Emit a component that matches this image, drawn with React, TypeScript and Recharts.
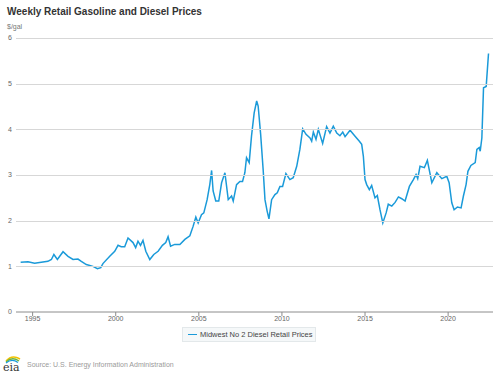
import React from "react";
import { LineChart, Line, XAxis, YAxis, Legend } from "recharts";

const years: number[] = [
  1994.28, 1994.72, 1995.12, 1995.52, 1995.92, 1996.13, 1996.28, 1996.49, 1996.83, 1997.13,
  1997.43, 1997.73, 1997.93, 1998.23, 1998.63, 1998.9, 1999.1, 1999.23, 1999.64, 1999.94,
  2000.14, 2000.33, 2000.54, 2000.74, 2001.04, 2001.2, 2001.34, 2001.49, 2001.64, 2001.81,
  2002.05, 2002.29, 2002.55, 2002.81, 2003.01, 2003.15, 2003.3, 2003.55, 2003.86, 2004.16,
  2004.46, 2004.66, 2004.82, 2004.96, 2005.16, 2005.3, 2005.5, 2005.66, 2005.77, 2005.86,
  2006.02, 2006.2, 2006.37, 2006.57, 2006.77, 2006.97, 2007.07, 2007.27, 2007.47, 2007.63,
  2007.77, 2007.87, 2008.03, 2008.17, 2008.33, 2008.48, 2008.57, 2008.72, 2008.87, 2008.98,
  2009.11, 2009.22, 2009.38, 2009.58, 2009.72, 2009.88, 2010.04, 2010.24, 2010.48, 2010.68,
  2010.89, 2011.08, 2011.25, 2011.45, 2011.69, 2011.79, 2011.89, 2012.05, 2012.19, 2012.45,
  2012.69, 2012.89, 2013.09, 2013.3, 2013.49, 2013.66, 2013.8, 2014.1, 2014.4, 2014.66,
  2014.8, 2014.9, 2015.0, 2015.1, 2015.26, 2015.4, 2015.6, 2015.74, 2015.9, 2016.07,
  2016.27, 2016.4, 2016.61, 2016.81, 2017.01, 2017.21, 2017.41, 2017.67, 2017.91, 2018.07,
  2018.17, 2018.31, 2018.57, 2018.75, 2019.02, 2019.32, 2019.62, 2019.92, 2020.06, 2020.22,
  2020.36, 2020.56, 2020.78, 2020.92, 2021.08, 2021.19, 2021.37, 2021.63, 2021.73, 2021.87,
  2021.93, 2022.03, 2022.13, 2022.29, 2022.43,
];

const prices: number[] = [
  1.09, 1.1, 1.07, 1.09, 1.11, 1.15, 1.26, 1.15, 1.32, 1.22,
  1.15, 1.16, 1.11, 1.04, 1.0, 0.95, 0.97, 1.06, 1.22, 1.33,
  1.46, 1.43, 1.43, 1.62, 1.52, 1.41, 1.55, 1.46, 1.57, 1.33,
  1.15, 1.26, 1.33, 1.46, 1.52, 1.65, 1.44, 1.48, 1.48, 1.59,
  1.67, 1.88, 2.08, 1.95, 2.13, 2.17, 2.46, 2.79, 3.1, 2.65,
  2.43, 2.43, 2.83, 3.05, 2.46, 2.54, 2.43, 2.79, 2.86, 2.86,
  3.05, 3.38, 3.27, 3.85, 4.36, 4.62, 4.51, 3.89, 3.12, 2.46,
  2.21, 2.04, 2.46, 2.57, 2.61, 2.75, 2.75, 3.03, 2.9, 2.94,
  3.19, 3.56, 4.01, 3.89, 3.81, 3.74, 3.94, 3.78, 4.0, 3.69,
  4.06, 3.92, 4.07, 3.92, 3.86, 3.94, 3.84, 3.98, 3.85, 3.74,
  3.67, 3.41, 2.9, 2.79, 2.68, 2.77, 2.5, 2.55, 2.24, 1.95,
  2.17, 2.36, 2.32, 2.4, 2.52, 2.48, 2.43, 2.75, 2.9, 3.01,
  2.92, 3.19, 3.16, 3.32, 2.83, 3.05, 2.92, 2.97, 2.83, 2.39,
  2.24, 2.3, 2.28, 2.54, 2.79, 3.08, 3.21, 3.27, 3.56, 3.6,
  3.52, 3.81, 4.91, 4.94, 5.66,
];

const xTicks: number[] = [1995, 2000, 2005, 2010, 2015, 2020];
const yTicks: number[] = [0, 1, 2, 3, 4, 5, 6];

const seriesName = "Midwest No 2 Diesel Retail Prices";
const titleText = "Weekly Retail Gasoline and Diesel Prices";
const unitText = "$/gal";
const sourceText = "Source: U.S. Energy Information Administration";

const data = years.map((y, i) => ({ year: y, price: prices[i] }));

const FONT = "'Liberation Sans', Arial, Helvetica, sans-serif";
const LINE_COLOR = "#1a9ad9";
const CHART_W = 499;
const MARGIN = { top: 38, right: 6, bottom: 0, left: 0 };
const Y_AXIS_W = 16;

const YTick = (props: any) => {
  const { x, y, payload } = props;
  const gx1 = MARGIN.left + Y_AXIS_W;
  const gx2 = CHART_W - MARGIN.right;
  const gy = Math.round(y) + 0.5;
  return (
    <g>
      {payload.value !== 0 && (
        <line x1={gx1} x2={gx2} y1={gy} y2={gy} stroke="#d7d7d7" strokeWidth={1} />
      )}
      <text x={x} y={y} dy="0.35em" textAnchor="end" fill="#666" fontSize={7} fontFamily={FONT}>
        {payload.value}
      </text>
    </g>
  );
};

const LegendContent = () => (
  <div
    style={{
      width: 134,
      height: 15,
      boxSizing: "border-box",
      border: "1px solid #e3e8ea",
      background: "#f5f8f9",
      display: "flex",
      alignItems: "center",
      fontFamily: FONT,
      fontSize: 7.5,
      color: "#444",
    }}
  >
    <span style={{ display: "inline-block", width: 9, height: 1.5, background: LINE_COLOR, marginLeft: 5, marginRight: 3 }} />
    <span>{seriesName}</span>
  </div>
);

export default function App() {
  return (
    <div style={{ position: "absolute", left: 0, top: 0, width: 499, height: 374, background: "#fff", fontFamily: FONT }}>
      <div style={{ position: "absolute", left: 7, top: 6, fontSize: 10, fontWeight: "bold", color: "#333", whiteSpace: "nowrap" }}>
        {titleText}
      </div>
      <div style={{ position: "absolute", left: 7, top: 23, fontSize: 7, color: "#777" }}>{unitText}</div>
      <LineChart width={CHART_W} height={374} data={data} margin={MARGIN}>
        <YAxis
          type="number"
          domain={[0, 6]}
          ticks={yTicks}
          width={Y_AXIS_W}
          axisLine={false}
          tickLine={false}
          tickSize={0}
          tickMargin={4}
          tick={<YTick />}
        />
        <XAxis
          dataKey="year"
          type="number"
          domain={[1994, 2022.7]}
          ticks={xTicks}
          height={62}
          tickSize={4}
          tickMargin={0}
          stroke="#8c8c8c"
          tick={{ fill: "#666", fontSize: 7, fontFamily: FONT }}
          allowDataOverflow
        />
        <Legend
          layout="horizontal"
          verticalAlign="middle"
          align="center"
          wrapperStyle={{ left: 182, top: 327, width: 134, height: 15 }}
          content={() => <LegendContent />}
        />
        <Line
          type="linear"
          dataKey="price"
          name={seriesName}
          stroke={LINE_COLOR}
          strokeWidth={1.5}
          dot={false}
          isAnimationActive={false}
        />
      </LineChart>
      <svg style={{ position: "absolute", left: 2, top: 353 }} width={22} height={20}>
        <path d="M4 8 Q10 1 18 6" fill="none" stroke="#f2c200" strokeWidth={1.5} />
        <path d="M4 9 Q10 3 17 8" fill="none" stroke="#6cb33f" strokeWidth={1.3} />
        <path d="M4 10 Q10 5 16 9.5" fill="none" stroke="#1a9ad9" strokeWidth={1.2} />
        <text x={1} y={18} fontFamily="'DejaVu Serif', 'Liberation Serif', serif" fontSize={11} fill="#333">eia</text>
      </svg>
      <div style={{ position: "absolute", left: 27, top: 361, fontSize: 7, color: "#9a9a9a", whiteSpace: "nowrap" }}>
        {sourceText}
      </div>
    </div>
  );
}
